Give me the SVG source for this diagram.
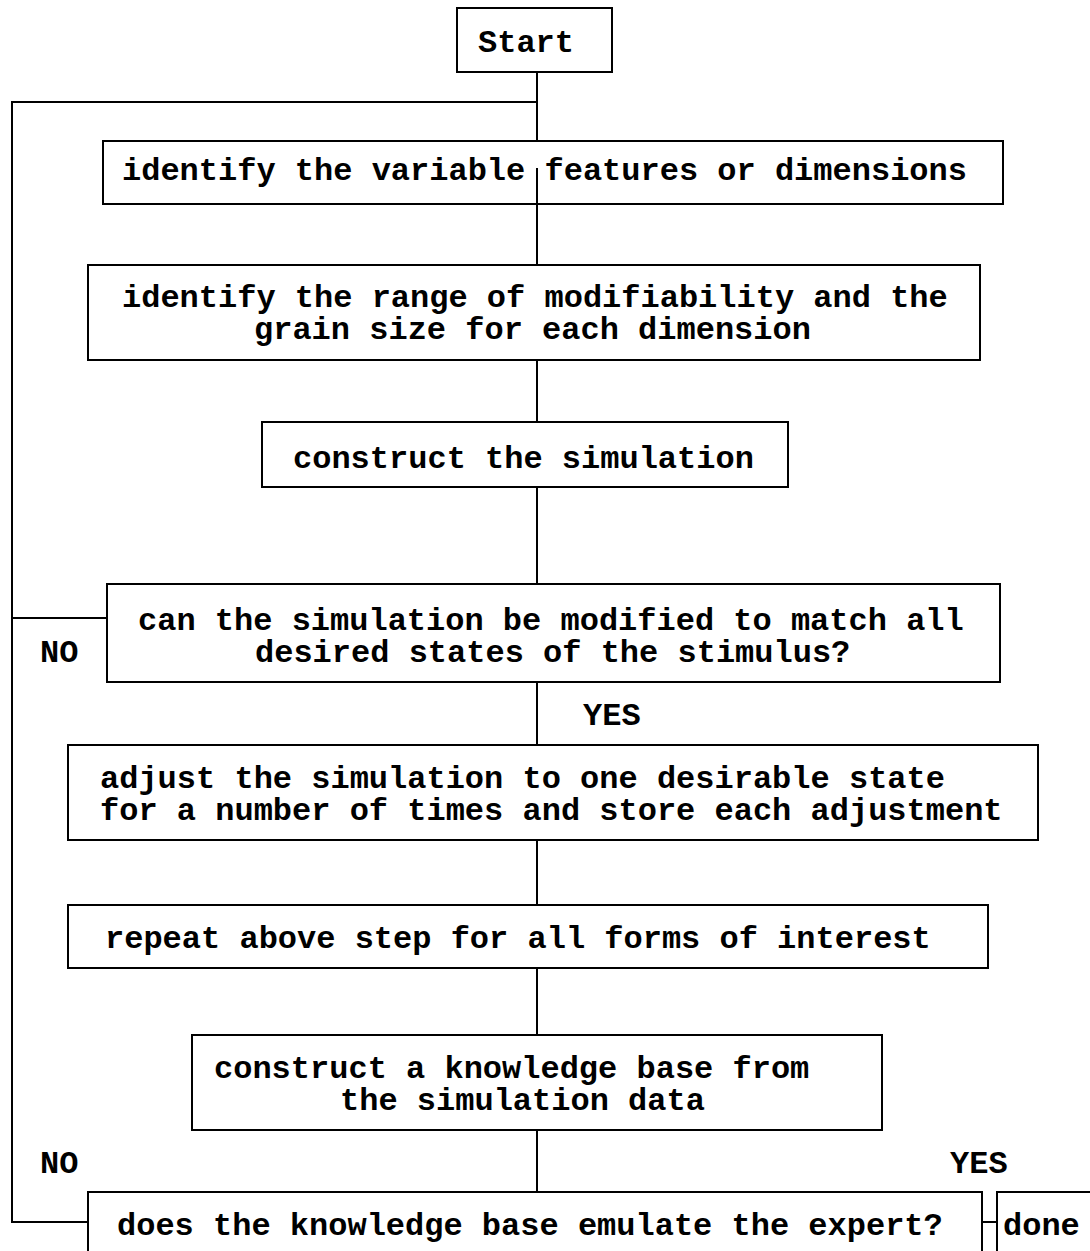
<svg xmlns="http://www.w3.org/2000/svg" width="1090" height="1251" viewBox="0 0 1090 1251">
<style>
.box{fill:#fff;stroke:#000;stroke-width:2}
.ln{fill:none;stroke:#000;stroke-width:2}
text{font-family:"Liberation Mono","Courier New",monospace;font-size:32px;font-weight:bold;fill:#000}
</style>
<rect width="1090" height="1251" fill="#fff"/>
<g id="connectors">
<path class="ln" d="M537 72V141"/>
<path class="ln" d="M537 102H12V1222H88"/>
<path class="ln" d="M537 168V265"/>
<path class="ln" d="M537 360V422"/>
<path class="ln" d="M537 487V584"/>
<path class="ln" d="M12 618H107"/>
<path class="ln" d="M537 682V745"/>
<path class="ln" d="M537 840V905"/>
<path class="ln" d="M537 968V1035"/>
<path class="ln" d="M537 1130V1192"/>
<path class="ln" d="M982 1222H997"/>
<text x="40" y="662">NO</text>
<text x="583" y="725">YES</text>
<text x="40" y="1173">NO</text>
<text x="950" y="1173">YES</text>
</g>
<g id="start"><rect class="box" x="457" y="8" width="155" height="64"/><text x="478" y="52">Start</text></g>
<g id="n1"><rect class="box" x="103" y="141" width="900" height="63"/><text x="122" y="180">identify the variable features or dimensions</text></g>
<path class="ln" d="M537 168V204"/>
<g id="n2"><rect class="box" x="88" y="265" width="892" height="95"/><text x="122" y="307">identify the range of modifiability and the</text><text x="254" y="339">grain size for each dimension</text></g>
<g id="n3"><rect class="box" x="262" y="422" width="526" height="65"/><text x="293" y="468">construct the simulation</text></g>
<g id="n4"><rect class="box" x="107" y="584" width="893" height="98"/><text x="138" y="630">can the simulation be modified to match all</text><text x="255" y="662">desired states of the stimulus?</text></g>
<g id="n5"><rect class="box" x="68" y="745" width="970" height="95"/><text x="100" y="788">adjust the simulation to one desirable state</text><text x="100" y="820">for a number of times and store each adjustment</text></g>
<g id="n6"><rect class="box" x="68" y="905" width="920" height="63"/><text x="105" y="948">repeat above step for all forms of interest</text></g>
<g id="n7"><rect class="box" x="192" y="1035" width="690" height="95"/><text x="214" y="1078">construct a knowledge base from</text><text x="340" y="1110">the simulation data</text></g>
<g id="n8"><rect class="box" x="88" y="1192" width="894" height="80"/><text x="117" y="1235">does the knowledge base emulate the expert?</text></g>
<g id="done"><rect class="box" x="997" y="1192" width="110" height="80"/><text x="1003" y="1235">done</text></g>
</svg>
